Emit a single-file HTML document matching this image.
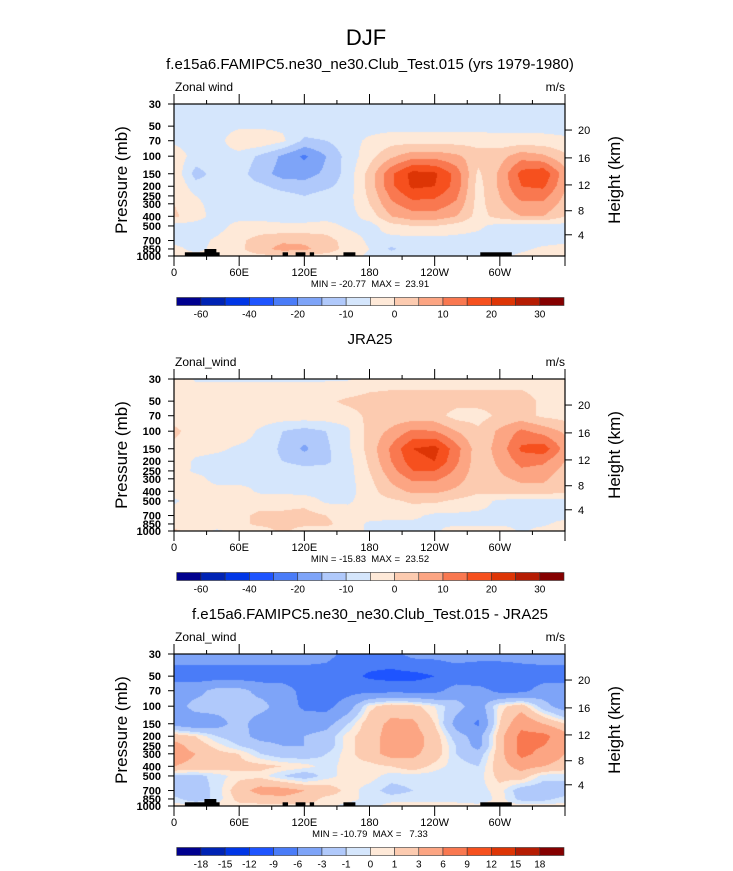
<!DOCTYPE html>
<html><head><meta charset="utf-8">
<style>
html,body{margin:0;padding:0;background:#fff;}
#wrap{position:relative;width:733px;height:871px;overflow:hidden;font-family:"Liberation Sans",Arial,sans-serif;}
canvas{position:absolute;}
svg{position:absolute;left:0;top:0;}
svg text{white-space:pre;}
</style></head>
<body>
<div id="wrap">
<canvas id="c1" width="391" height="152" style="left:174px;top:104px"></canvas>
<canvas id="c2" width="391" height="152" style="left:174px;top:379px"></canvas>
<canvas id="c3" width="391" height="152" style="left:174px;top:654px"></canvas>
<svg id="ov" width="733" height="871"></svg>
</div>
<script>
const lons=[0,20,40,60,80,100,120,140,160,180,200,220,240,260,280,300,320,340,360];
const pres=[30,50,70,100,150,200,250,300,400,500,700,850,1000];
const data1=[
[-7,-7,-7,-7,-7,-7,-7,-7,-7,-7,-7,-7,-7,-7,-7,-7,-7,-7,-7],
[-7,-7,-7,-6,-6,-6,-7,-7,-7,-7,-7,-7,-7,-7,-7,-7,-7,-7,-7],
[-6,-7,-7,-1,-1,-4,-11,-10,-7,-4,-2,-2,-2,-2,-2,-3,-3,-3,-4],
[-2,-7,-7,-7,-11,-16,-21,-15,-8,-2,4,8,8,6,2,3,8,6,1],
[-1,-12,-8,-8,-13,-17,-17,-14,-8,2,14,22,21,13,-1,6,17,19,7],
[0,-8,-8,-8,-9,-12,-13,-11,-8,2,14,21,20,13,-2,6,15,16,6],
[0,-5,-7,-7,-7,-8,-10,-8,-7,1,11,17,16,11,-2,5,12,12,4],
[0,-4,-7,-7,-7,-7,-7,-7,-7,0,9,13,13,9,-2,4,9,9,3],
[1,-3,-7,-7,-7,-7,-7,-7,-7,-3,5,8,8,5,-2,2,5,5,0],
[-7,-7,-7,-3,-3,-4,-4,-3,-6,-7,-2,0,0,-2,-4,-7,-7,-7,-7],
[-7,-7,-4,-1,2,4,4,2,-2,-6,-7,-7,-7,-7,-7,-7,-7,-7,-7],
[-3,-7,-3,-1,3,7,6,3,-2,-5,-11,-7,-7,-7,-7,-7,-6,-4,-2],
[-2,-3,-2,-2,-1,-1,-1,-2,-3,-6,-7,-7,-7,-7,-7,-6,-4,-2,-2]];
const data2=[
[-2,-5.5,-5.5,-5.5,-5.5,-5.5,-5.5,-5.5,-5.5,-3,-2,-2,-2,-2,-2,-2,-2,-2,-2],
[-2,-2,-2,-2,-2,-2,-2,-1,1,2,2,2,2,2,2,2,2,-1,-2],
[-2,-2,-2,-2,-2,-2,-2,-2,-2,1,2,2,2,-2,-2,1,2,-1,-2],
[1,-2,-2,-2,-6,-10,-12,-10,-6,2,6,11,10,5,1,6,11,8,4],
[-1,-3,-4,-6,-7,-11,-16,-11,-6,2,11,20,22,12,2,7,16,18,8],
[-1,-6,-7,-7,-8,-10,-12,-11,-7,1,10,18,20,11,2,6,12,11,5],
[-2,-6,-7,-7,-7,-7,-8,-8,-7,0,8,15,15,9,2,5,9,8,3],
[-2,-3,-7,-7,-6,-6,-7,-7,-7,-1,6,11,11,7,2,4,6,6,2],
[-2,-3,-3,-3,-6,-6,-7,-7,-7,-2,3,6,6,4,1,2,3,3,1],
[-6,-2,-3,-2,-2,-2,-2,-6,-6,-2,-1,1,1,-1,-3,-6,-7,-7,-7],
[-2,-2,-2,-1,1,1,2,0,-2,-3,-4,-4,-6,-6,-6,-6,-6,-7,-7],
[-2,-2,-2,-1,1,1,1,1,-2,-6,-6,-6,-6,-6,-6,-6,-6,-6,-3],
[1,-2,-6,-2,-2,1,-2,-2,-2,-6,-6,-6,-6,-2,-2,-2,-6,-3,-2]];
const data3=[
[-4.5,-4.5,-4.5,-4.5,-4.5,-4.5,-4.5,-5,-7,-7,-7,-5,-5,-4.5,-4.5,-4.5,-4.5,-4.5,-4.5],
[-7.5,-7.5,-7.5,-7.5,-7.5,-7.5,-7.5,-7.5,-8,-9.5,-10,-10,-9,-8,-9,-9,-8,-7.5,-7.5],
[-4,-4,-2,-2,-4,-4.5,-7,-7.5,-7,-7,-7,-7,-7,-4.5,-4.5,-7,-7,-4.5,-4.5],
[-4.5,-2,-2,-2,-2,-4.5,-6.5,-7,-4.5,0.5,2,1.5,0,-2,-4.5,0.5,2,-2,-4.5],
[-4,-5,-4,-2,-4.5,-4.5,-4.5,-4,-1,2,3.5,3.5,1,-4,-6.5,1,5,3,1],
[2,1,-1,-2,-4,-4,-3,-2,0.5,2,4,4,2,-2,-4,2,7,7,4],
[4,2,0.5,-1,-2,-3,-3,-2,0.5,2,4,4,2,-1,-4,2,7,6,4],
[4,3,1.5,1,-1,-2,-2,-1,0.5,2,4,3.5,2,-1,-2,2,7,5,3],
[3,2.5,2,1.5,1.5,1,0.5,-0.5,0.5,0.5,1,2,0.5,-0.5,-1,2,4,3,2],
[-1.5,-1.5,-0.5,0.5,0.5,-1,-2,-0.5,0.5,0.5,-0.5,-0.5,-0.5,-1,-0.5,1.5,2,-0.5,-0.5],
[-2,-2,-0.5,2,4,4,3,2,0.5,-0.5,-1.5,-1,-0.5,-0.5,-0.5,0.5,-2,-2,-2],
[-0.5,-2,-0.5,1.5,2,2.5,2,0.5,0.5,-0.5,-0.5,-0.5,-0.5,-0.5,-1,0.5,-1.5,-1.5,-0.5],
[0.5,0.5,0.5,0.5,0.5,0.5,0.5,0.5,-0.5,-0.5,0.5,0.5,0.5,0.5,0.5,0.5,0.5,0.5,0.5]];
const levels1=[-60,-50,-40,-30,-20,-15,-10,-5,0,5,10,15,20,25,30];
const levels3=[-18,-15,-12,-9,-6,-3,-1,0,1,3,6,9,12,15,18];
const colors=['#00008e','#0023b4','#0036e6','#1e54ff','#4a7cf8','#7ea4f8','#b0c9fb','#d5e6fc','#fee9d8','#fccbb0','#fca583','#f97850','#f6501e','#dd3505','#b51c03','#850000'];
const cbLabels1=['-60','-40','-20','-10','0','10','20','30'];
const cbLabelIdx1=[1,3,5,7,9,11,13,15];
const cbLabels3=['-18','-15','-12','-9','-6','-3','-1','0','1','3','6','9','12','15','18'];
const pTicks=[30,50,70,100,150,200,250,300,400,500,700,850,1000];
const hTicks=[20,16,12,8,4];
const hTickPres=[54.7,104,194,352,613];
const xTickLons=[0,60,120,180,240,300];
const xTickLabels=['0','60E','120E','180','120W','60W'];
const landLon=[[10,42],[100,105],[112,121],[125,129],[156,167],[282,311]];
const bumpLon=[28,39];

const X0=174,W=391,H=152;
const tops=[104,379,654];
function xOf(lon){return X0+lon*W/360;}
function yOf(p,top){return top+H*Math.log(p/30)/Math.log(1000/30);}
function lvlColor(v,lv){let i=0;while(i<lv.length&&v>=lv[i])i++;return colors[i];}
function hex(c){return [parseInt(c.substr(1,2),16),parseInt(c.substr(3,2),16),parseInt(c.substr(5,2),16)];}
function fill(id,data,lv){
  const cv=document.getElementById(id),ctx=cv.getContext('2d');
  const img=ctx.createImageData(W,H);
  const lp=pres.map(p=>Math.log(p));
  for(let py=0;py<H;py++){
    const p=Math.log(30)+(py+0.5)/H*Math.log(1000/30);
    let r=0;while(r<pres.length-2&&p>lp[r+1])r++;
    const fy=Math.min(1,Math.max(0,(p-lp[r])/(lp[r+1]-lp[r])));
    for(let px=0;px<W;px++){
      const lon=(px+0.5)/W*360;
      let c=Math.min(lons.length-2,Math.floor(lon/20));
      const fx=(lon-lons[c])/20;
      const v=(1-fy)*((1-fx)*data[r][c]+fx*data[r][c+1])+fy*((1-fx)*data[r+1][c]+fx*data[r+1][c+1]);
      const rgb=hex(lvlColor(v,lv));const k=(py*W+px)*4;
      img.data[k]=rgb[0];img.data[k+1]=rgb[1];img.data[k+2]=rgb[2];img.data[k+3]=255;
    }
  }
  ctx.putImageData(img,0,0);
}
fill('c1',data1,levels1);fill('c2',data2,levels1);fill('c3',data3,levels3);

const svg=document.getElementById('ov');const NS='http://www.w3.org/2000/svg';
function mk(tag,attrs,name,txt){const e=document.createElementNS(NS,tag);for(const k in attrs)e.setAttribute(k,attrs[k]);


if(txt!==undefined)e.textContent=txt;svg.appendChild(e);return e;}
function txt(x,y,s,size,anchor,name,extra){const a={x:x,y:y,'font-size':size,'text-anchor':anchor||'middle','font-family':'Liberation Sans, Arial, sans-serif',fill:'#000'};if(extra)for(const k in extra)a[k]=extra[k];return mk('text',a,name,s);}

txt(366,45,'DJF',22,'middle','main-title');
const titles=['f.e15a6.FAMIPC5.ne30_ne30.Club_Test.015 (yrs 1979-1980)','JRA25','f.e15a6.FAMIPC5.ne30_ne30.Club_Test.015 - JRA25'];
const left=['Zonal wind','Zonal_wind','Zonal_wind'];
const mm=['MIN = -20.77  MAX =  23.91','MIN = -15.83  MAX =  23.52','MIN = -10.79  MAX =   7.33'];
tops.forEach((T,i)=>{
  txt(370,T-35,titles[i],15,'middle','panel-title-'+(i+1));
  txt(175,T-13,left[i],12,'start','variable-label-'+(i+1));
  txt(565,T-13,'m/s',12,'end','units-label-'+(i+1));
  if(i!==1){
    landLon.forEach(l=>{mk('rect',{x:xOf(l[0]),y:T+H-3.7,width:xOf(l[1])-xOf(l[0]),height:3.7,fill:'#000'},'land-mask');});
    mk('rect',{x:xOf(bumpLon[0]),y:T+H-7,width:xOf(bumpLon[1])-xOf(bumpLon[0]),height:4,fill:'#000'},'land-mask');
  }
  mk('rect',{x:X0,y:T,width:W,height:H,fill:'none',stroke:'#000','stroke-width':1.2},'plot-frame-'+(i+1));
  for(let lon=0;lon<=360;lon+=30){
    const x=xOf(lon),maj=lon%60===0,len=maj?10:4;
    mk('line',{x1:x,y1:T,x2:x,y2:T-len,stroke:'#000','stroke-width':1},'x-tick-top');
    mk('line',{x1:x,y1:T+H,x2:x,y2:T+H+len,stroke:'#000','stroke-width':1},'x-tick-bottom');
  }
  xTickLons.forEach((lon,j)=>txt(xOf(lon),T+H+20,xTickLabels[j],11,'middle','x-tick-label'));
  pTicks.forEach(p=>{const y=yOf(p,T);mk('line',{x1:X0,y1:y,x2:X0-6,y2:y,stroke:'#000','stroke-width':1},'y-tick');
    txt(161,y+4,String(p),11,'end','pressure-tick-label',{'font-weight':'bold'});});
  hTicks.forEach((h,j)=>{const y=yOf(hTickPres[j],T);mk('line',{x1:X0+W,y1:y,x2:X0+W+7,y2:y,stroke:'#000','stroke-width':1},'height-tick');
    txt(578,y+4,String(h),11,'start','height-tick-label');});
  txt(0,0,'Pressure (mb)',17,'middle','y-axis-title-'+(i+1),{transform:'translate(127,'+(T+76)+') rotate(-90)'});
  txt(0,0,'Height (km)',17,'middle','right-axis-title-'+(i+1),{transform:'translate(620,'+(T+76)+') rotate(-90)'});
  txt(370,T+H+31,mm[i],9.5,'middle','min-max-label-'+(i+1));
  const cy=T+193.5,cx0=176.7,cw=(564-176.7)/16;
  colors.forEach((c,k)=>mk('rect',{x:cx0+k*cw,y:cy,width:cw,height:8,fill:c,stroke:'#333','stroke-width':0.6},'colorbar-box'));
  if(i<2){cbLabels1.forEach((s,j)=>txt(cx0+cbLabelIdx1[j]*cw,cy+20,s,10,'middle','colorbar-label'));}
  else{cbLabels3.forEach((s,j)=>txt(cx0+(j+1)*cw,cy+20,s,10,'middle','colorbar-label'));}
});
</script>
</body></html>
